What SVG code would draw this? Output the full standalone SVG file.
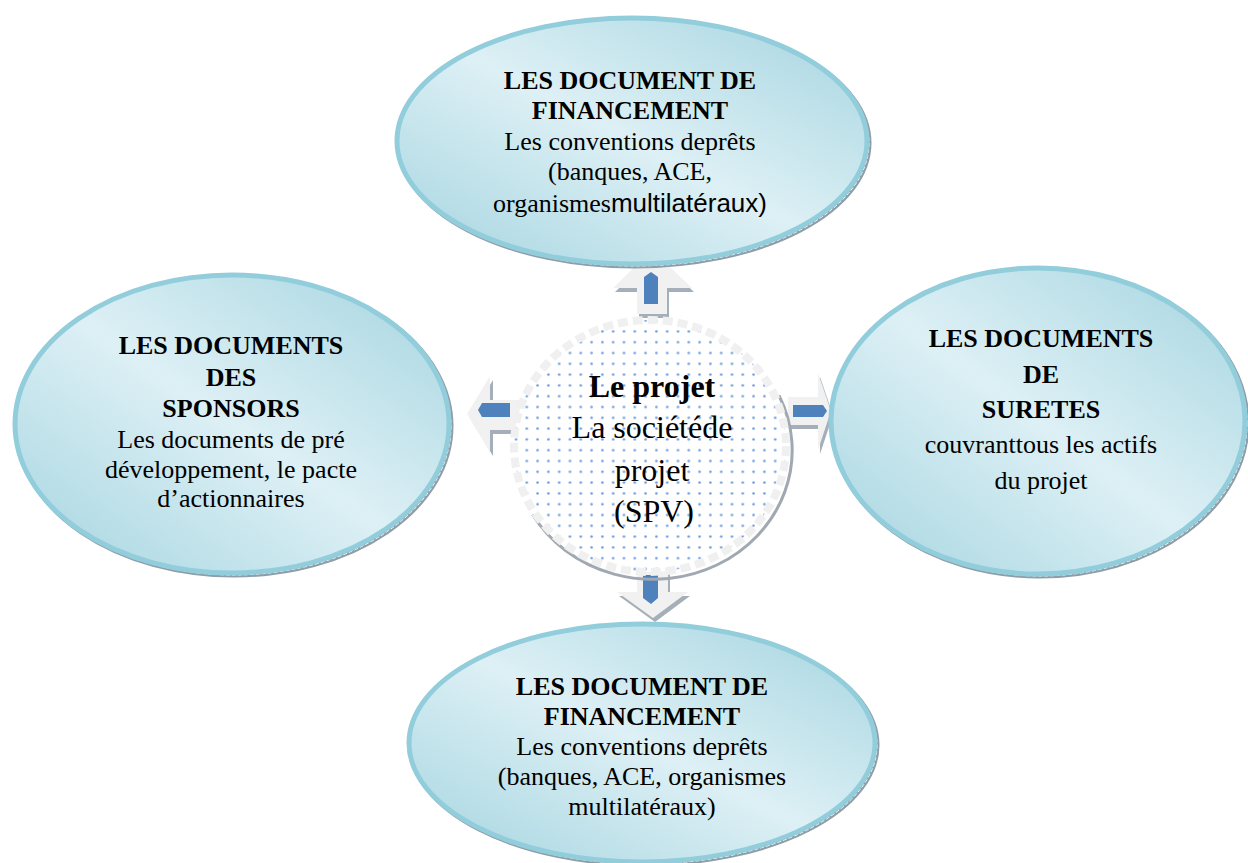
<svg xmlns="http://www.w3.org/2000/svg" width="1248" height="863" viewBox="0 0 1248 863">
<defs>
<linearGradient id="blueFill" x1="1" y1="0" x2="0" y2="1">
<stop offset="0" stop-color="#a4d4e0"/>
<stop offset="0.5" stop-color="#ddf0f5"/>
<stop offset="1" stop-color="#a4d4e0"/>
</linearGradient>
<pattern id="dots" width="10.8" height="10.8" patternUnits="userSpaceOnUse" x="3" y="2">
<rect width="10.8" height="10.8" fill="#ffffff"/>
<circle cx="5.4" cy="5.4" r="1.3" fill="#6d9de0"/>
</pattern>
<style>
.shadow{fill:none;stroke:#8e9ea8;stroke-width:5}
.shadowline{fill:none;stroke:#ffffff;stroke-width:1;stroke-dasharray:4 2}
.bubble{fill:url(#blueFill);stroke:#92cddc;stroke-width:5}
.ah{fill:#f1f1f1}
.ahs{fill:#a5afba}
.ab{fill:#4f81bd}
text{font-family:"Liberation Serif","Times New Roman",serif;fill:#000;text-anchor:middle}
.b{font-weight:bold;font-size:26px}
.r{font-size:26px}
.cb{font-weight:bold;font-size:32px}
.cr{font-size:32px}
.sans{font-family:"Liberation Sans",Arial,sans-serif}
</style>
</defs>
<rect width="1248" height="863" fill="#ffffff"/>

<g id="connectors">
<!-- up arrow -->
<polygon class="ahs" points="654,254 694,292 669,292 669,318 639,318 639,292 615,292"/>
<polygon class="ah" points="652,250 692,288 667,288 667,314 637,314 637,288 613,288"/>
<polygon class="ab" points="644,304 644,277 651,272 658,277 658,304"/>
<!-- left arrow -->
<polygon class="ahs" points="470,418 493,380 493,404 522,404 522,434 493,434 493,456"/>
<polygon class="ah" points="467,414 490,376 490,400 520,400 520,430 490,430 490,452"/>
<polygon class="ab" points="510,403 510,417 482,417 478,410 482,403"/>
<!-- right arrow -->
<polygon class="ahs" points="833,415 820,377 820,401 790,401 790,429 820,429 820,454"/>
<polygon class="ah" points="831,411 818,373 818,397 788,397 788,425 818,425 818,450"/>
<polygon class="ab" points="793,405 823,405 827,411 823,417 793,417"/>
<!-- down arrow -->
<polygon class="ahs" points="655,622 690,596 670,596 670,574 639,574 639,596 619,596"/>
<polygon class="ah" points="653,618 688,592 668,592 668,570 637,570 637,592 617,592"/>
<polygon class="ab" points="643,575 658,575 658,598 651,604 643,598"/>
</g>

<g id="node-center">
<path d="M779,395.5 A139,129 0 0 1 532.6,514.5" fill="none" stroke="#a0a8b2" stroke-width="3"/>
<ellipse cx="650" cy="446" rx="136" ry="126" fill="url(#dots)" stroke="#f0f0f0" stroke-width="8" stroke-dasharray="10 5"/>
<text class="cb" x="652" y="397">Le projet</text>
<text class="cr" x="652" y="438">La sociétéde</text>
<text class="cr" x="652" y="481">projet</text>
<text class="cr" x="654" y="522">(SPV)</text>
</g>

<g id="node-top">
<ellipse class="shadow" cx="634" cy="143" rx="235" ry="123"/>
<ellipse class="shadowline" cx="634" cy="143" rx="235" ry="123"/>
<ellipse class="bubble" cx="632" cy="141" rx="235" ry="123"/>
<text class="b" x="630" y="89">LES DOCUMENT DE</text>
<text class="b" x="630" y="119">FINANCEMENT</text>
<text class="r" x="630" y="150">Les conventions deprêts</text>
<text class="r" x="630" y="180">(banques, ACE,</text>
<text class="r" x="630" y="212">organismes<tspan class="sans">multilatéraux)</tspan></text>
</g>

<g id="node-left">
<ellipse class="shadow" cx="234" cy="426" rx="217" ry="149"/>
<ellipse class="shadowline" cx="234" cy="426" rx="217" ry="149"/>
<ellipse class="bubble" cx="232" cy="424" rx="217" ry="149"/>
<text class="b" x="231" y="354">LES DOCUMENTS</text>
<text class="b" x="231" y="386">DES</text>
<text class="b" x="231" y="417">SPONSORS</text>
<text class="r" x="231" y="448">Les documents de pré</text>
<text class="r" x="231" y="478">développement, le pacte</text>
<text class="r" x="231" y="507">d’actionnaires</text>
</g>

<g id="node-right">
<ellipse class="shadow" cx="1040" cy="423" rx="207" ry="153"/>
<ellipse class="shadowline" cx="1040" cy="423" rx="207" ry="153"/>
<ellipse class="bubble" cx="1038" cy="421" rx="207" ry="153"/>
<text class="b" x="1041" y="347">LES DOCUMENTS</text>
<text class="b" x="1041" y="383">DE</text>
<text class="b" x="1041" y="418">SURETES</text>
<text class="r" x="1041" y="453">couvranttous les actifs</text>
<text class="r" x="1041" y="489">du projet</text>
</g>

<g id="node-bottom">
<ellipse class="shadow" cx="644" cy="745" rx="233" ry="119"/>
<ellipse class="shadowline" cx="644" cy="745" rx="233" ry="119"/>
<ellipse class="bubble" cx="642" cy="743" rx="233" ry="119"/>
<text class="b" x="642" y="695">LES DOCUMENT DE</text>
<text class="b" x="642" y="725">FINANCEMENT</text>
<text class="r" x="642" y="755">Les conventions deprêts</text>
<text class="r" x="642" y="785">(banques, ACE, organismes</text>
<text class="r" x="642" y="815">multilatéraux)</text>
</g>
</svg>
